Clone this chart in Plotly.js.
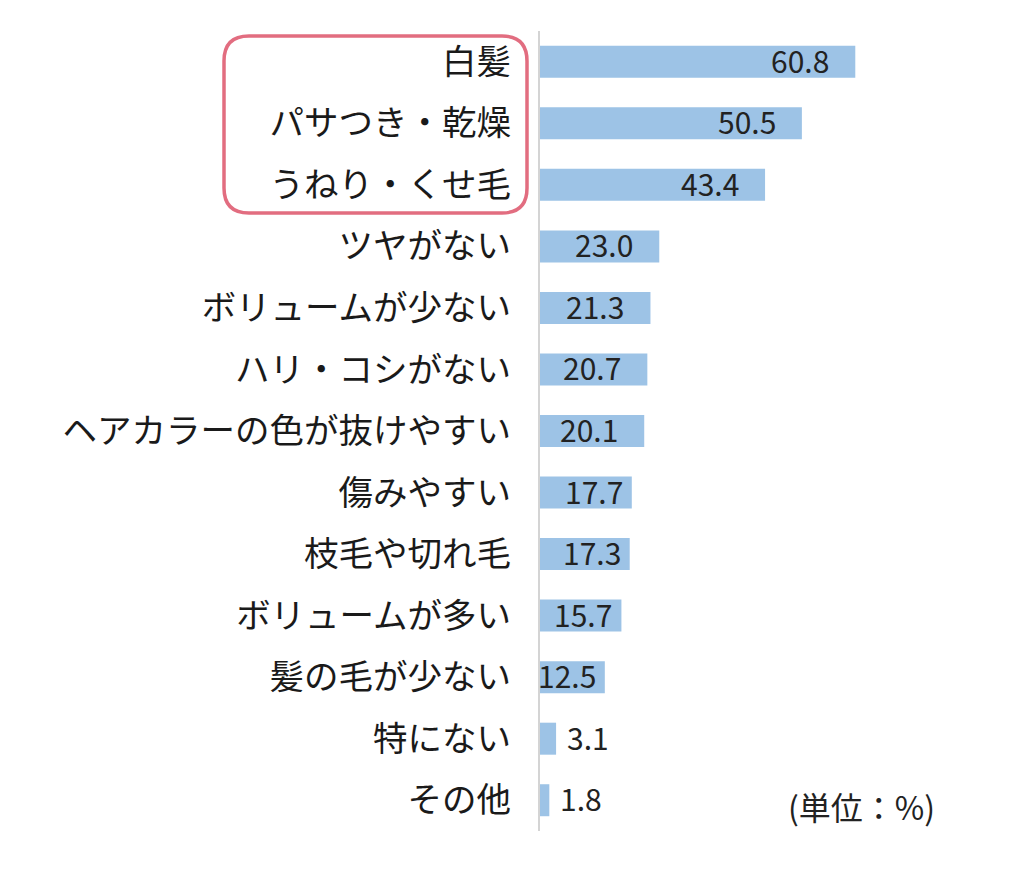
<!DOCTYPE html>
<html>
<head>
<meta charset="utf-8">
<script src="https://cdn.plot.ly/plotly-3.0.1.min.js"></script>
<style>
  html, body { margin: 0; padding: 0; background: #fff; }
  #plot { width: 1024px; height: 869px; }
</style>
</head>
<body>
<div id="plot"></div>
<script>
// 髪の悩み（単位：%）
var categories = ['白髪', 'パサつき・乾燥', 'うねり・くせ毛', 'ツヤがない', 'ボリュームが少ない',
  'ハリ・コシがない', 'ヘアカラーの色が抜けやすい', '傷みやすい', '枝毛や切れ毛',
  'ボリュームが多い', '髪の毛が少ない', '特にない', 'その他'];
var values = [60.8, 50.5, 43.4, 23.0, 21.3, 20.7, 20.1, 17.7, 17.3, 15.7, 12.5, 3.1, 1.8];
var valueLabels = ['60.8', '50.5', '43.4', '23.0', '21.3', '20.7', '20.1', '17.7', '17.3', '15.7', '12.5', '3.1', '1.8'];
var unitLabel = '(単位：%)';

var font = 'Noto Sans CJK JP, Noto Sans, sans-serif';

// plot area in pixels (used for the decorative box only)
var L = 540, R = 903, T = 31, B = 831;
function px(x) { return (x - L) / (R - L); }
function py(y) { return (B - y) / (B - T); }

var trace = {
  type: 'bar',
  orientation: 'h',
  x: values,
  y: categories,
  width: 0.52,
  marker: {color: '#9dc3e6'},
  hoverinfo: 'skip'
};

// value labels: inside end for long bars, just outside for very short ones
var labels = values.map(function (v, i) {
  var outside = v < 5;
  return {
    x: v, y: categories[i], xref: 'x', yref: 'y',
    text: valueLabels[i], showarrow: false,
    xanchor: outside ? 'left' : 'right',
    xshift: outside ? 9 : (v >= 20 ? -24 : -7),
    yshift: 2,
    font: {family: font, size: 30, color: '#222'}
  };
});

labels.push({
  x: px(937), y: py(806), xref: 'paper', yref: 'paper',
  text: unitLabel, showarrow: false, xanchor: 'right', yanchor: 'middle',
  font: {family: font, size: 32, color: '#222'}
});

// rounded pink frame round the top three
var bl = 224, br = 527, bt = 36, bb = 213, rr = 25;
var boxPath = 'M ' + px(bl + rr) + ',' + py(bt) +
  ' L ' + px(br - rr) + ',' + py(bt) +
  ' Q ' + px(br) + ',' + py(bt) + ' ' + px(br) + ',' + py(bt + rr) +
  ' L ' + px(br) + ',' + py(bb - rr) +
  ' Q ' + px(br) + ',' + py(bb) + ' ' + px(br - rr) + ',' + py(bb) +
  ' L ' + px(bl + rr) + ',' + py(bb) +
  ' Q ' + px(bl) + ',' + py(bb) + ' ' + px(bl) + ',' + py(bb - rr) +
  ' L ' + px(bl) + ',' + py(bt + rr) +
  ' Q ' + px(bl) + ',' + py(bt) + ' ' + px(bl + rr) + ',' + py(bt) + ' Z';

var layout = {
  width: 1024, height: 869,
  margin: {l: L, r: 1024 - R, t: T, b: 869 - B},
  paper_bgcolor: '#fff', plot_bgcolor: '#fff',
  showlegend: false,
  bargap: 0.48,
  xaxis: {range: [0, 70], visible: false, fixedrange: true},
  yaxis: {
    autorange: 'reversed',
    showline: true, linecolor: '#d4d4d4', linewidth: 2,
    showgrid: false, zeroline: false, ticks: '',
    ticklabelstandoff: 20,
    tickfont: {family: font, size: 34.5, color: '#1a1a1a'},
    fixedrange: true
  },
  annotations: labels,
  shapes: [{
    type: 'path', xref: 'paper', yref: 'paper', path: boxPath,
    line: {color: '#e26d80', width: 3.5}
  }]
};

Plotly.newPlot('plot', [trace], layout, {displayModeBar: false, staticPlot: true});
</script>
</body>
</html>
